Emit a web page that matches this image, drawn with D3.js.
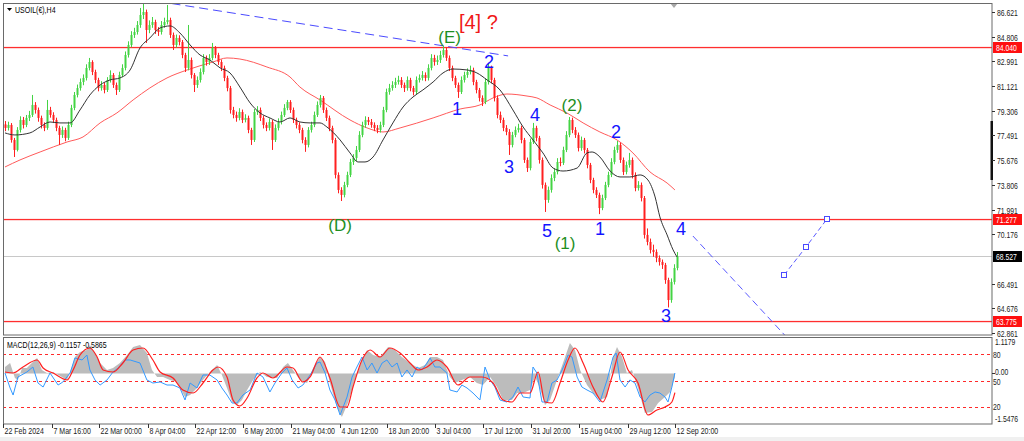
<!DOCTYPE html>
<html><head><meta charset="utf-8">
<script src="https://cdn.jsdelivr.net/npm/d3@7"></script>
<style>
html,body{margin:0;padding:0;background:#fff;}
svg{display:block;}
.nar{font-family:"Liberation Sans",Arial,sans-serif;}
.wave{font-family:"Liberation Sans",Arial,sans-serif;}
</style></head><body>
<svg id="chart" width="1024" height="441"></svg>
<script>
// ---------- DATA ----------
const symbolTitle = "USOIL(€),H4";
const macdTitle = "MACD(12,26,9) -0.1157 -0.5865";
// H4 candles [open, high, low, close]
const candles = [
[78.30,78.55,77.80,78.04],[78.04,78.50,77.85,78.26],[78.26,78.40,76.95,77.15],[77.15,77.30,75.89,76.41],[76.41,78.10,76.30,77.89],
[77.89,78.90,77.70,78.63],[78.63,78.85,78.00,78.26],[78.26,79.00,78.10,78.78],[78.78,79.30,78.55,79.00],[79.00,80.48,78.85,79.74],
[79.74,79.95,79.10,79.37],[79.37,79.55,78.50,78.78],[78.78,78.95,78.00,78.26],[78.26,78.45,77.80,78.04],[78.04,80.11,77.90,79.37],
[79.37,79.60,78.80,79.00],[79.00,79.20,78.40,78.63],[78.63,78.80,77.80,78.04],[78.04,78.20,76.78,77.52],[77.52,78.15,77.30,77.89],
[77.89,78.05,77.05,77.30],[77.30,78.50,77.15,78.26],[78.26,79.75,78.10,79.52],[79.52,80.70,79.35,80.48],[80.48,81.25,80.30,80.99],
[80.99,81.70,80.80,81.44],[81.44,82.00,81.20,81.74],[81.74,82.75,81.55,82.48],[82.48,83.22,82.30,82.92],[82.92,83.05,81.95,82.18],
[82.18,82.35,81.35,81.59],[81.59,81.75,80.75,80.99],[80.99,81.50,80.80,81.22],[81.22,81.40,80.60,80.85],[80.85,81.80,80.70,81.59],
[81.59,82.30,81.40,81.96],[81.96,82.10,81.00,81.22],[81.22,81.40,80.48,80.85],[80.85,82.20,80.70,81.96],[81.96,82.75,81.80,82.48],
[82.48,83.70,82.30,83.44],[83.44,84.45,83.25,84.18],[84.18,85.20,84.00,84.92],[84.92,85.45,84.70,85.14],[85.14,85.95,84.95,85.66],
[85.66,86.92,85.45,86.40],[86.40,87.29,86.10,86.62],[86.62,86.80,84.33,85.29],[85.29,86.00,85.05,85.66],[85.66,86.25,85.45,85.88],
[85.88,86.05,85.00,85.29],[85.29,85.50,84.85,85.14],[85.14,85.95,84.95,85.66],[85.66,86.20,85.45,85.88],[85.88,87.14,85.70,86.03],
[86.03,86.20,84.70,84.92],[84.92,85.10,83.81,84.18],[84.18,84.95,84.00,84.70],[84.70,84.90,84.15,84.40],[84.40,84.55,83.20,83.44],
[83.44,83.60,82.18,82.48],[82.48,85.66,82.30,83.07],[83.07,83.25,81.70,81.96],[81.96,82.10,80.70,81.22],[81.22,81.85,81.00,81.59],
[81.59,82.45,81.40,82.18],[82.18,83.50,82.00,83.22],[83.22,83.40,82.65,82.92],[82.92,83.50,82.70,83.22],[83.22,84.33,83.05,83.96],
[83.96,84.10,83.20,83.44],[83.44,83.60,82.70,82.92],[82.92,83.10,82.25,82.48],[82.48,82.65,81.50,81.74],[81.74,81.90,80.75,80.99],
[80.99,81.15,79.10,79.37],[79.37,79.60,78.75,79.00],[79.00,79.25,78.50,78.78],[78.78,79.50,78.60,79.22],[79.22,79.40,78.40,78.63],
[78.63,79.05,78.45,78.78],[78.78,78.95,77.65,77.89],[77.89,78.05,76.78,77.15],[77.15,79.45,77.00,79.22],[79.22,79.65,79.00,79.37],
[79.37,79.55,78.55,78.78],[78.78,78.95,78.00,78.26],[78.26,78.45,77.80,78.04],[78.04,78.75,77.85,78.48],[78.48,78.65,76.41,77.15],
[77.15,78.30,77.00,78.04],[78.04,78.75,77.85,78.48],[78.48,79.25,78.30,79.00],[79.00,79.80,78.85,79.52],[79.52,80.11,79.35,79.96],
[79.96,80.10,79.15,79.37],[79.37,79.55,78.40,78.63],[78.63,78.80,78.00,78.26],[78.26,78.45,77.65,77.89],[77.89,78.05,76.90,77.15],
[77.15,77.35,76.27,76.78],[76.78,78.10,76.60,77.89],[77.89,78.50,77.70,78.26],[78.26,79.25,78.10,79.00],[79.00,80.00,78.85,79.74],
[79.74,80.48,79.55,80.26],[80.26,80.40,79.15,79.37],[79.37,79.55,78.55,78.78],[78.78,78.95,77.80,78.04],[78.04,78.20,76.90,77.15],
[77.15,77.30,74.30,74.56],[74.56,74.75,73.20,73.45],[73.45,73.65,72.63,73.08],[73.08,74.05,72.90,73.82],[73.82,74.80,73.65,74.56],
[74.56,75.75,74.40,75.52],[75.52,76.10,75.30,75.82],[75.82,76.70,75.60,76.41],[76.41,77.80,76.25,77.52],[77.52,78.50,77.35,78.26],
[78.26,78.90,78.05,78.63],[78.63,78.85,78.25,78.48],[78.48,78.70,78.05,78.26],[78.26,78.45,77.80,78.04],[78.04,78.25,77.65,77.89],
[77.89,78.50,77.70,78.26],[78.26,79.60,78.10,79.37],[79.37,80.95,79.20,80.70],[80.70,81.30,80.50,80.99],[80.99,81.50,80.80,81.22],
[81.22,81.75,81.00,81.44],[81.44,81.90,81.25,81.59],[81.59,81.80,81.00,81.22],[81.22,81.40,80.70,80.99],[80.99,81.85,80.80,81.59],
[81.59,81.75,80.75,80.99],[80.99,81.15,80.45,80.70],[80.70,81.85,80.55,81.59],[81.59,82.00,81.40,81.74],[81.74,82.25,81.55,81.96],
[81.96,82.15,81.50,81.74],[81.74,82.75,81.55,82.48],[82.48,83.50,82.30,83.22],[83.22,83.45,82.65,82.92],[82.92,83.40,82.70,83.07],
[83.07,83.75,82.85,83.44],[83.44,84.11,83.25,83.81],[83.81,84.00,83.00,83.22],[83.22,83.40,82.25,82.48],[82.48,82.65,81.50,81.74],
[81.74,81.90,81.00,81.22],[81.22,81.40,80.26,80.70],[80.70,81.85,80.55,81.59],[81.59,82.20,81.40,81.96],[81.96,82.45,81.75,82.18],
[82.18,82.65,82.00,82.33],[82.33,82.50,81.20,81.44],[81.44,81.60,80.60,80.85],[80.85,81.00,80.00,80.26],[80.26,80.45,79.66,79.96],
[79.96,81.70,79.80,81.44],[81.44,82.85,81.25,82.48],[82.48,82.65,81.35,81.59],[81.59,81.75,80.00,80.26],[80.26,80.45,78.75,79.00],
[79.00,79.25,78.40,78.63],[78.63,78.80,77.80,78.04],[78.04,78.25,77.50,77.74],[77.74,77.95,76.04,76.78],[76.78,77.75,76.60,77.52],
[77.52,78.15,77.35,77.89],[77.89,78.35,77.70,78.04],[78.04,78.20,76.90,77.15],[77.15,77.30,75.45,75.67],[75.67,75.85,74.78,75.07],
[75.07,77.25,74.90,77.00],[77.00,78.41,76.85,78.04],[78.04,78.20,77.05,77.30],[77.30,77.45,75.40,75.67],[75.67,75.85,73.55,73.82],
[73.82,74.00,71.82,72.71],[72.71,73.70,72.50,73.45],[73.45,74.60,73.25,74.33],[74.33,75.05,74.10,74.78],[74.78,75.80,74.60,75.52],
[75.52,75.85,75.20,75.45],[75.45,76.65,75.30,76.41],[76.41,77.80,76.25,77.52],[77.52,78.85,77.35,78.63],[78.63,78.80,77.65,77.89],
[77.89,78.10,77.30,77.52],[77.52,77.70,76.30,76.55],[76.55,77.40,76.35,77.15],[77.15,77.30,76.15,76.41],[76.41,76.55,75.05,75.30],
[75.30,75.45,73.95,74.19],[74.19,74.35,73.20,73.45],[73.45,73.65,72.85,73.08],[73.08,73.25,71.66,72.11],[72.11,73.10,71.95,72.85],
[72.85,74.05,72.70,73.82],[73.82,74.80,73.65,74.56],[74.56,75.80,74.40,75.52],[75.52,76.65,75.35,76.41],[76.41,77.07,76.20,76.78],
[76.78,76.95,75.45,75.67],[75.67,75.85,74.55,74.78],[74.78,75.55,74.60,75.30],[75.30,76.19,75.10,75.67],[75.67,75.85,74.30,74.56],
[74.56,74.75,73.35,73.59],[73.59,74.10,73.40,73.82],[73.82,74.00,72.60,72.85],[72.85,73.00,69.85,70.12],[70.12,70.60,69.35,69.60],
[69.60,69.85,68.75,69.01],[69.01,69.40,68.50,68.86],[68.86,69.05,68.10,68.41],[68.41,68.60,67.85,68.12],[68.12,68.30,67.60,67.90],
[67.90,68.05,66.50,66.78],[66.78,66.95,64.75,65.30],[65.30,66.90,65.10,66.64],[66.64,67.95,66.45,67.67],[67.67,68.85,67.50,68.53]
];
// moving averages sampled [barIndex, price]
const maFast = [[0,77.67],[3.3,77.52],[8.3,77.67],[11.7,78.11],[15,78.48],[18.3,78.41],[21.7,78.41],[25,79.37],[28.3,80.48],[31.7,81.22],[35,81.59],[38.3,81.74],[41.7,82.33],[45,83.96],[48.3,84.70],[51.7,85.44],[55,85.59],[58.3,85.07],[61.7,84.18],[65,83.44],[68.3,83.07],[71.7,82.48],[75,82.11],[78.3,81.07],[81.7,79.89],[85,79.15],[88.3,78.78],[91.7,78.48],[95,78.78],[98.3,78.48],[101.7,78.41],[105,78.41],[107.3,78.11],[111.7,77.15],[115,76.19],[117.7,75.52],[120,75.52],[122.7,75.89],[126,77.15],[129.3,78.41],[132.7,79.59],[136,80.33],[139.3,80.85],[142.7,81.44],[146,82.11],[149.3,82.40],[154,82.33],[157.3,82.11],[160.7,81.59],[165,80.85],[169.3,79.37],[172.7,78.11],[176,77.15],[179.3,76.19],[182.7,75.07],[186,74.85],[190.7,75.07],[194,76.19],[195.7,76.26],[198.3,75.89],[201.7,74.85],[205,74.41],[208.3,74.41],[211.7,74.56],[214.3,74.19],[216.7,72.93],[218.3,71.45],[220.7,70.12],[222.7,69.01],[224,68.49]];
const maSlow = [[0,75.15],[5,75.67],[11.7,76.26],[20.7,77.00],[26,77.37],[31.7,78.41],[37.3,79.15],[42.7,80.11],[48.3,81.00],[54,81.74],[60.7,82.33],[69.3,82.92],[74,83.22],[78.3,83.14],[87.3,82.55],[95,81.81],[98.3,81.07],[105,80.11],[115,78.63],[120.7,78.04],[126,77.74],[131.7,78.04],[142.7,78.78],[151.7,79.44],[158.3,79.74],[162.7,80.26],[167.3,80.55],[174,80.40],[177.3,80.26],[181.7,79.74],[187.3,79.15],[192.7,78.41],[198.3,77.74],[204,77.15],[209.3,76.19],[215,74.78],[220.7,73.96],[223.3,73.45]];
// horizontal levels
const resistLevels = [84.040, 71.277, 63.775];
const lastPrice = 68.527;
// price axis tick labels (68.361 sits under the last-price tag)
const priceTicks = [86.621, 84.806, 82.991, 81.121, 79.306, 77.491, 75.676, 73.806, 71.991, 70.176, 66.491, 64.676, 62.861];
// time axis [barIndex, label]
const timeTicks = [[-0.67,"22 Feb 2024"],[15.67,"7 Mar 16:00"],[31.33,"22 Mar 00:00"],[47.67,"8 Apr 04:00"],[63.33,"22 Apr 12:00"],[79.33,"6 May 20:00"],[95.33,"21 May 04:00"],[111.67,"4 Jun 12:00"],[127.33,"18 Jun 20:00"],[143.33,"3 Jul 04:00"],[159.33,"17 Jul 12:00"],[175.33,"31 Jul 20:00"],[191.33,"15 Aug 04:00"],[207.67,"29 Aug 12:00"],[223.33,"12 Sep 20:00"]];
// wave labels [barIndex, price, text, colourKey]
const waveLabels = [[148.2,84.33,"(E)","g"],[161.3,82.48,"2","b"],[150.7,79.0,"1","b"],[168,74.7,"3","b"],[176.7,78.55,"4","b"],[180.7,69.97,"5","b"],[186.7,69.10,"(1)","g"],[189,79.29,"(2)","g"],[203.7,77.30,"2","b"],[198.3,70.12,"1","b"],[225.3,70.12,"4","b"],[220.3,63.67,"3","b"],[111.7,70.41,"(D)","g"]];
const degreeLabel = [151.3, 85.36, "[4] ?"];
// trend / projection lines [barIndex, price]
const upperTrend = [[55.5,87.25],[167.7,83.37]];
const projDown = [[229.3,70.04],[262,62.2]];
const projUp = [[259.7,67.15],[267,69.23],[274,71.30]];
// MACD panel series [barIndex, value]
const macdMain = [[0,0.199],[1.7,0.321],[3.3,-0.138],[4.3,-0.199],[5.7,0.168],[7.3,0.168],[9.3,0.352],[10.7,0.474],[12.3,0.107],[14,0.015],[16,0.046],[19,-0.107],[20.7,-0.199],[22.3,0.199],[23.3,0.505],[25,0.658],[27.3,0.720],[28.3,0.873],[30,0.628],[31.7,0.321],[34,0.107],[36,0.168],[38.3,0.321],[40.7,0.566],[42.7,0.812],[45,0.873],[47.3,0.628],[49,0.107],[50.7,-0.107],[52.7,-0.107],[55,-0.199],[57.3,-0.261],[60,-0.720],[61.7,-0.659],[64,-0.445],[66,-0.199],[68.3,0.046],[70.7,0.260],[72.3,-0.046],[74,-0.445],[75.7,-0.873],[77.3,-0.965],[79,-0.812],[80.7,-0.506],[82.7,-0.199],[85,0.046],[87.3,-0.107],[90.7,-0.138],[92.7,0.199],[94.3,0.321],[96,0.107],[98.3,-0.199],[100.7,-0.291],[102.7,0.168],[105,0.505],[106.7,0.352],[108.3,-0.291],[110.7,-1.05],[112.3,-1.333],[114.3,-0.904],[116.7,-0.199],[119,0.413],[120.7,0.720],[122.7,0.566],[125,0.505],[127.7,0.812],[130,0.720],[132.3,0.505],[135,0.321],[137.7,0.168],[140,0.260],[141.7,0.505],[144,0.505],[146,0.413],[148.3,-0.107],[150,-0.291],[152.3,-0.199],[155,-0.107],[157.3,-0.291],[159.3,-0.353],[161.7,-0.107],[164,-0.414],[166,-0.812],[169,-0.812],[170.7,-0.598],[172.7,-0.598],[175,-0.506],[176.7,-0.107],[178.3,-0.445],[180,-0.965],[181.7,-0.812],[184,-0.199],[186,0.321],[188.3,0.934],[190,0.720],[191.7,0.107],[194,-0.353],[196,-0.598],[198.3,-0.812],[200.7,-0.720],[202.7,0.505],[204,0.812],[205.7,0.505],[207.3,0.015],[209,0.107],[211,-0.445],[213.3,-1.210],[215.7,-1.180],[217.7,-0.904],[220,-0.720],[221.7,-0.567],[223.3,-0.1157]];
const macdSignal = [[0,0.046],[2.7,0.015],[6,0.199],[10.7,0.413],[12.7,0.168],[16,0.015],[20.7,-0.199],[22.7,0.107],[25,0.566],[28.3,0.781],[30.7,0.505],[32.7,0.107],[36,0.046],[39.3,0.321],[42.7,0.720],[46,0.781],[49.3,0.413],[51.7,0.046],[56,-0.138],[59.3,-0.506],[62.7,-0.598],[66,-0.291],[69.3,0.107],[71,0.199],[74,-0.107],[76,-0.812],[78.3,-0.996],[80.7,-0.751],[84,-0.138],[86,0.015],[89.3,-0.138],[94,0.199],[96,0.168],[99.3,-0.261],[101.7,-0.107],[105,0.505],[108.3,-0.138],[111.7,-1.026],[114,-1.026],[116,-0.414],[119,0.413],[121.7,0.720],[125,0.505],[128.3,0.781],[131.7,0.628],[135,0.321],[137.7,0.107],[140.7,0.199],[144,0.413],[147.3,0.199],[151,-0.353],[155,-0.107],[159,-0.107],[162.7,-0.291],[166,-0.812],[169,-0.873],[171.7,-0.598],[175,-0.598],[177.7,0.046],[180,-0.873],[182.3,-0.904],[185,-0.291],[187.7,0.413],[190,0.781],[192.7,0.321],[196,-0.414],[199.3,-0.873],[202.3,-0.107],[205,0.658],[207.7,0.107],[211,-0.291],[214.3,-1.272],[217.3,-1.118],[220,-1.026],[222.3,-0.873],[223.3,-0.5865]];
const oscLine = [[0,58.6],[1.7,41.4],[2.7,33.3],[4.3,54.0],[7.3,59.8],[9.3,65.5],[11,47.1],[12.7,42.5],[15,58.6],[17.7,44.8],[19.3,48.3],[21.7,58.6],[23.3,75.9],[25.7,73.6],[27.3,79.3],[28.3,62.1],[30,50.6],[31.7,44.8],[34,50.6],[36,59.8],[37.7,64.4],[40,73.6],[41.7,73.6],[45,70.1],[47.3,50.6],[49.3,47.1],[51.7,48.3],[54,44.8],[56,44.8],[58.3,41.4],[60,27.6],[61.7,47.1],[64,41.4],[66,56.3],[68.3,56.3],[70.7,50.6],[72.3,41.4],[74,33.3],[75.7,24.1],[77.3,24.1],[79.3,33.3],[81.7,39.1],[84,58.6],[86,54.0],[88.3,36.8],[90,47.1],[92.3,58.6],[94,64.4],[95.7,50.6],[97.7,41.4],[99.3,44.8],[101.7,56.3],[104,70.1],[105,71.3],[106.7,58.6],[108.3,39.1],[110,27.6],[111.7,10.3],[114,31.0],[115.7,54.0],[117.3,65.5],[119,77.0],[120.7,62.1],[122.3,70.1],[124,58.6],[125.7,70.1],[127.3,73.6],[129,65.5],[130.7,70.1],[132.3,54.0],[134,62.1],[135.7,54.0],[137.3,65.5],[139,62.1],[140.7,70.1],[141.7,75.9],[143.3,65.5],[145,65.5],[147.3,58.6],[148.3,39.1],[150.7,36.8],[152.3,44.8],[154,41.4],[156,35.6],[158.3,27.6],[160,65.5],[161.7,50.6],[163.3,42.5],[165,27.6],[167.3,25.3],[169.3,31.0],[171,42.5],[172.7,31.0],[175,29.9],[176,65.5],[177.3,58.6],[179,25.3],[180.7,25.3],[182.3,47.1],[184,50.6],[185.7,62.1],[186.7,70.1],[187.7,79.3],[189,77.0],[190.7,54.0],[192.3,42.5],[194,39.1],[196,35.6],[198.3,25.3],[200.7,50.6],[202.7,77.0],[203.7,81.6],[205,50.6],[206.7,42.5],[208.3,50.6],[210,47.1],[211.7,31.0],[213.3,25.3],[215,33.3],[216.7,36.8],[218.3,35.6],[220,31.0],[221,25.3],[222.3,42.5],[223.3,58.6]];
const oscLevels = [80, 50, 20];
const macdRange = [-1.5476, 1.1179];
// sub-window axis labels [value, text, scaleKey]
const subAxisLabels = [[1.1179,"1.1179","m"],[80,"80","o"],[0,"0.00","m"],[50,"50","o"],[20,"20","o"],[-1.5476,"-1.5476","m"]];

// ---------- DRAW ----------
const svg = d3.select('#chart');
svg.append('rect').attr('width',1024).attr('height',441).attr('fill','#fff');
svg.append('rect').attr('x',0).attr('y',437).attr('width',1024).attr('height',4).attr('fill','#f0f0f0');

const x = d3.scaleLinear().domain([0,329]).range([5,992]);
const y = d3.scaleLinear().domain([62.712,87.287]).range([335,3]);
const my = d3.scaleLinear().domain(macdRange).range([424,337]);
const oy = d3.scaleLinear().domain([0,100]).range([424,337]);

// narrow text helper (MT4-like condensed UI font)
function ntext(parent, tx, ty, str, fill, opts){
  opts = opts || {};
  const t = parent.append('text').attr('class','nar')
    .attr('transform',`translate(${tx},${ty}) scale(${opts.sx||0.78},1)`)
    .attr('font-size',opts.size||9).attr('fill',fill).text(str);
  if (opts.mid) t.attr('dy','0.35em');
  return t;
}

const defs = svg.append('defs');
defs.append('clipPath').attr('id','cMain').append('rect').attr('x',3).attr('y',3).attr('width',989).attr('height',332);
defs.append('clipPath').attr('id','cSub').append('rect').attr('x',3).attr('y',337).attr('width',989).attr('height',87);

const main = svg.append('g').attr('clip-path','url(#cMain)');
const sub = svg.append('g').attr('clip-path','url(#cSub)');

// horizontal levels (drawn as thin filled bands so the red survives)
resistLevels.forEach(v=>{
  const yy = Math.round(y(v));
  main.append('rect').attr('x',3).attr('width',989).attr('y',yy-0.1).attr('height',1.3).style('fill','#ff2e2e');
});
main.append('rect').attr('x',3).attr('width',989).attr('y',Math.round(y(lastPrice))).attr('height',1).style('fill','#c8c8c8');

// moving averages
const maLine = d3.line().x(d=>x(d[0])).y(d=>y(d[1])).curve(d3.curveMonotoneX);
main.append('path').attr('d',maLine(maSlow)).attr('fill','none').style('stroke','#ff5a5a').attr('stroke-width',1);

// candles
const cg = main.append('g');
candles.forEach((c,i)=>{
  const [o,h,l,cl] = c;
  const col = cl>=o ? '#44d444' : '#ff2020';
  const xp = Math.round(x(i))+0.5;
  cg.append('line').attr('x1',xp).attr('x2',xp).attr('y1',y(h)).attr('y2',y(l)).style('stroke',col).attr('stroke-width',1);
  const top = y(Math.max(o,cl)), bot = y(Math.min(o,cl));
  cg.append('rect').attr('x',xp-1).attr('y',top).attr('width',2).attr('height',Math.max(1,bot-top)).style('fill',col);
});
main.append('path').attr('d',maLine(maFast)).attr('fill','none').style('stroke','#333').attr('stroke-width',1);

// trend lines
const tl = d3.line().x(d=>x(d[0])).y(d=>y(d[1]));
main.append('path').attr('d',tl(upperTrend)).attr('fill','none').style('stroke','#4a4aff').attr('stroke-width',1).attr('stroke-dasharray','9,5');
main.append('path').attr('d',tl(projDown)).attr('fill','none').style('stroke','#5a5aff').attr('stroke-width',1).attr('stroke-dasharray','7,4');
main.append('path').attr('d',tl(projUp)).attr('fill','none').style('stroke','#5a5aff').attr('stroke-width',1).attr('stroke-dasharray','5,3');
projUp.forEach(d=>{
  main.append('rect').attr('x',Math.round(x(d[0]))-2.5).attr('y',Math.round(y(d[1]))-2.5).attr('width',5).attr('height',5)
    .style('fill','#fff').style('stroke','#4a4aff').attr('stroke-width',1);
});

// wave labels
const colMap = {g:'#1f8f1f', b:'#1414ff'};
waveLabels.forEach(d=>{
  main.append('text').attr('class','wave').attr('x',x(d[0])).attr('y',y(d[1])).attr('text-anchor','middle')
    .attr('font-size',d[3]==='g'?17:18).style('fill',colMap[d[3]]).text(d[2]);
});
main.append('text').attr('class','wave').attr('x',x(degreeLabel[0])).attr('y',y(degreeLabel[1]))
  .attr('font-size',20).style('fill','#f01818').text(degreeLabel[2]);

// shift marker
main.append('path').attr('d',`M${x(223)-4},3 L${x(223)+4},3 L${x(223)},8 Z`).style('fill','#a8a8a8');

// ---- sub panel ----
oscLevels.forEach(v=>{
  const yy = Math.round(oy(v))+0.5;
  sub.append('line').attr('x1',3).attr('x2',992).attr('y1',yy).attr('y2',yy)
    .style('stroke','#ff2a2a').attr('stroke-width',1).attr('stroke-dasharray','3,3');
});
const area = d3.area().x(d=>x(d[0])).y0(my(0)).y1(d=>my(d[1]));
sub.append('path').attr('d',area(macdMain)).style('fill','#bcbcbc');
sub.append('path').attr('d',d3.line().x(d=>x(d[0])).y(d=>oy(d[1]))(oscLine)).attr('fill','none').style('stroke','#3399ff').attr('stroke-width',1);
sub.append('path').attr('d',d3.line().x(d=>x(d[0])).y(d=>my(d[1])).curve(d3.curveMonotoneX)(macdSignal)).attr('fill','none').style('stroke','#ff2020').attr('stroke-width',1.2);

// ---- frames ----
const frame = svg.append('g').attr('fill','none').style('stroke','#6a6a6a').attr('stroke-width',1);
frame.append('rect').attr('x',3.5).attr('y',3.5).attr('width',988.5).attr('height',331.5);
frame.append('rect').attr('x',3.5).attr('y',337.5).attr('width',988.5).attr('height',86.5);
svg.append('rect').attr('x',990.5).attr('y',121).attr('width',2.5).attr('height',59).style('fill','#111');

// header
svg.append('path').attr('d','M7,8 L12,8 L9.5,11 Z').style('fill','#000');
ntext(svg, 15, 13, symbolTitle, '#000');
ntext(svg, 7, 348, macdTitle, '#000');

// price axis
const pa = svg.append('g');
priceTicks.forEach(p=>{
  const yy = Math.round(y(p))+0.5;
  pa.append('line').attr('x1',992).attr('x2',995).attr('y1',yy).attr('y2',yy).style('stroke','#333');
  ntext(pa, 997, yy, d3.format('.3f')(p), '#222', {mid:true, sx:0.76});
});
// level tags
function tag(v, bg){
  const yy = Math.round(y(v));
  pa.append('rect').attr('x',993).attr('y',yy-5).attr('width',29).attr('height',11).style('fill',bg);
  ntext(pa, 996, yy+0.5, d3.format('.3f')(v), '#fff', {mid:true, sx:0.76});
}
resistLevels.forEach(v=>tag(v,'#ff1010'));
tag(lastPrice,'#000');

// sub axis labels
subAxisLabels.forEach(d=>{
  const yy = d[2]==='m' ? my(d[0]) : oy(d[0]);
  let yl = yy;
  if (d[0]===1.1179 && d[2]==='m') yl = yy+5;
  if (d[0]===-1.5476) yl = yy-5;
  if (d[2]==='m' && d[0]===0) {
    svg.append('line').attr('x1',992).attr('x2',995).attr('y1',Math.round(yy)+0.5).attr('y2',Math.round(yy)+0.5).style('stroke','#333');
    yl = yy-1.5;
  }
  if (d[2]==='o' && d[0]===50) yl = yy+1.5;
  ntext(svg, d[2]==='m'?995:993, yl, d[1], '#222', {mid:true, sx:0.76});
});

// time axis
timeTicks.forEach(t=>{
  const xx = Math.max(3.5, Math.round(x(t[0]))+0.5);
  svg.append('line').attr('x1',xx).attr('x2',xx).attr('y1',424).attr('y2',428).style('stroke','#333');
  ntext(svg, xx+1, 434, t[1], '#222');
});
</script>
</body></html>
